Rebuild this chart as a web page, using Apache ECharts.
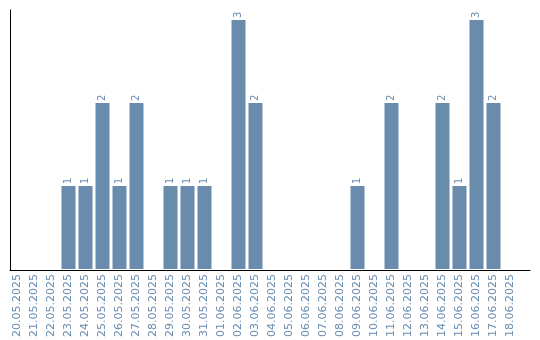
<!DOCTYPE html>
<html><head><meta charset="utf-8">
<script src="https://cdn.jsdelivr.net/npm/echarts@6/dist/echarts.min.js"></script>
<style>html,body{margin:0;padding:0;background:#fff}#c{width:540px;height:340px}</style>
</head><body><div id="c"></div>
<script>
const categories = ['20.05.2025','21.05.2025','22.05.2025','23.05.2025','24.05.2025','25.05.2025','26.05.2025','27.05.2025','28.05.2025','29.05.2025','30.05.2025','31.05.2025','01.06.2025','02.06.2025','03.06.2025','04.06.2025','05.06.2025','06.06.2025','07.06.2025','08.06.2025','09.06.2025','10.06.2025','11.06.2025','12.06.2025','13.06.2025','14.06.2025','15.06.2025','16.06.2025','17.06.2025','18.06.2025'];
const values = [0,0,0,1,1,2,1,2,0,1,1,1,0,3,2,0,0,0,0,0,1,0,2,0,0,2,1,3,2,0];

const chart = echarts.init(document.getElementById('c'), null, {renderer:'canvas'});
const textColor = '#6a8cb0';
const barColor = '#6a8cac';
chart.setOption({
  animation:false,
  grid:[
    {left:9, right:21, top:10, bottom:70, containLabel:false},
    {left:10, right:10, top:10, bottom:70, containLabel:false}
  ],
  xAxis:[
    {type:'category', gridIndex:0, data:categories,
     axisLine:{show:false}, axisTick:{show:false},
     axisLabel:{rotate:90, color:textColor, fontSize:11, fontFamily:'DejaVu Sans', interval:0, margin:5}},
    {type:'value', gridIndex:1, min:0, max:1,
     axisLine:{show:true, onZero:false, lineStyle:{color:'#000', width:1}}, axisTick:{show:false},
     axisLabel:{show:false}, splitLine:{show:false}}
  ],
  yAxis:[
    {type:'value', gridIndex:0, min:0, max:3.12,
     axisLine:{show:false}, axisTick:{show:false}, axisLabel:{show:false}, splitLine:{show:false}},
    {type:'value', gridIndex:1, min:0, max:1,
     axisLine:{show:true, lineStyle:{color:'#000', width:1}}, axisTick:{show:false},
     axisLabel:{show:false}, splitLine:{show:false}}
  ],
  series:[{
    type:'bar', xAxisIndex:0, yAxisIndex:0, data:values, barWidth:14,
    itemStyle:{color:barColor},
    label:{show:true, position:'top', rotate:90, distance:2, color:textColor, fontSize:10, fontFamily:'DejaVu Sans',
      align:'left', verticalAlign:'middle',
      formatter:p=>p.value>0?String(p.value):''}
  }]
});
</script></body></html>
